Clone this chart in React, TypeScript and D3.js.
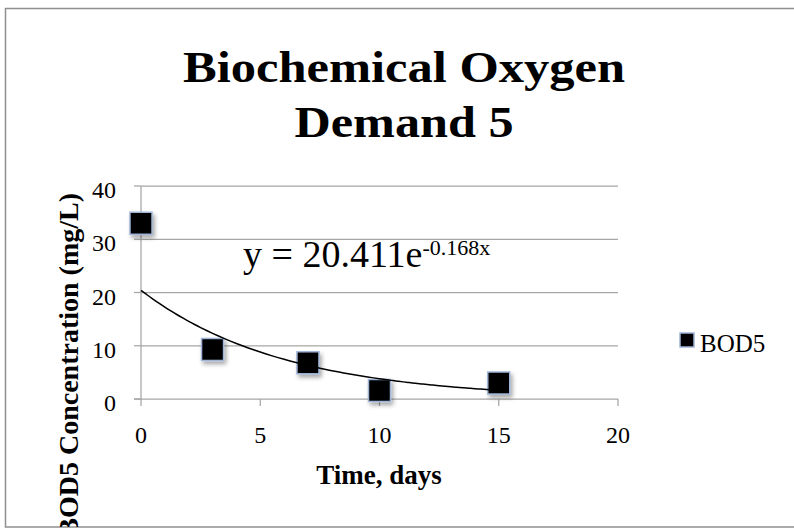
import * as React from 'react';
import * as d3 from 'd3';

const days = [0, 3, 7, 10, 15];
const bod5 = [33, 9.3, 6.8, 1.6, 3.0];
const xTicks = [0, 5, 10, 15, 20];
const yTicks = [0, 10, 20, 30, 40];
const titleLines = ['Biochemical Oxygen', 'Demand 5'];
const seriesName = 'BOD5';
const xTitle = 'Time, days';
const yTitle = 'BOD5 Concentration (mg/L)';
// exponential trendline as printed on the chart
const trendA = 20.411;
const trendK = -0.168;

const W = 794;
const H = 529;
const serif = '"Liberation Serif", "Times New Roman", serif';

export default function App() {
    const ref = React.useRef<SVGSVGElement>(null);

    React.useEffect(() => {
        const svg = d3.select(ref.current);
        svg.selectAll('*').remove();

        const x = d3.scaleLinear().domain([0, 20]).range([141, 618]);
        const y = d3.scaleLinear().domain([0, 40]).range([399, 186]);

        const defs = svg.append('defs');
        defs.append('clipPath').attr('id', 'chartArea')
            .append('rect').attr('x', 5).attr('y', 8).attr('width', 800).attr('height', 519);
        defs.append('filter').attr('id', 'shadow')
            .attr('x', '-50%').attr('y', '-50%').attr('width', '200%').attr('height', '200%')
            .append('feDropShadow')
            .attr('dx', 2).attr('dy', 3).attr('stdDeviation', 2)
            .attr('flood-color', '#000').attr('flood-opacity', 0.35);

        // chart frame
        svg.append('rect')
            .attr('x', 5.5).attr('y', 8.5).attr('width', 800).attr('height', 518.5)
            .attr('fill', '#fff').attr('stroke', '#8f8f8f').attr('stroke-width', 1.5);

        const g = svg.append('g').attr('clip-path', 'url(#chartArea)');

        // title
        g.selectAll('text.title')
            .data(titleLines)
            .enter().append('text')
            .attr('class', 'title')
            .attr('x', 404)
            .attr('y', (d, i) => 82 + i * 55)
            .attr('text-anchor', 'middle')
            .attr('font-family', serif)
            .attr('font-weight', 'bold')
            .attr('font-size', 45)
            .attr('textLength', (d, i) => i === 0 ? 442 : 219)
            .attr('lengthAdjust', 'spacingAndGlyphs')
            .text(d => d);

        // gridlines
        g.selectAll('line.grid')
            .data(yTicks.slice(1))
            .enter().append('line')
            .attr('class', 'grid')
            .attr('x1', x(0)).attr('x2', x(20))
            .attr('y1', d => y(d)).attr('y2', d => y(d))
            .attr('stroke', '#a6a6a6').attr('stroke-width', 1.25);

        // y axis
        g.append('line')
            .attr('x1', x(0)).attr('x2', x(0))
            .attr('y1', y(0)).attr('y2', y(40))
            .attr('stroke', '#a6a6a6').attr('stroke-width', 1.25);
        g.selectAll('line.ytick')
            .data(yTicks)
            .enter().append('line')
            .attr('class', 'ytick')
            .attr('x1', x(0) - 7).attr('x2', x(0))
            .attr('y1', d => y(d)).attr('y2', d => y(d))
            .attr('stroke', '#a6a6a6').attr('stroke-width', 1.25);
        g.selectAll('text.ylab')
            .data(yTicks)
            .enter().append('text')
            .attr('class', 'ylab')
            .attr('x', 116)
            .attr('y', d => y(d) + 12)
            .attr('text-anchor', 'end')
            .attr('font-family', serif)
            .attr('font-size', 24)
            .text(d => d);

        // x axis
        g.append('line')
            .attr('x1', x(0) - 7).attr('x2', x(20))
            .attr('y1', y(0)).attr('y2', y(0))
            .attr('stroke', '#a6a6a6').attr('stroke-width', 1.25);
        g.selectAll('line.xtick')
            .data(xTicks)
            .enter().append('line')
            .attr('class', 'xtick')
            .attr('x1', d => x(d)).attr('x2', d => x(d))
            .attr('y1', y(0)).attr('y2', y(0) + 7)
            .attr('stroke', '#a6a6a6').attr('stroke-width', 1.25);
        g.selectAll('text.xlab')
            .data(xTicks)
            .enter().append('text')
            .attr('class', 'xlab')
            .attr('x', d => x(d))
            .attr('y', 443)
            .attr('text-anchor', 'middle')
            .attr('font-family', serif)
            .attr('font-size', 24)
            .text(d => d);

        // axis titles
        g.append('text')
            .attr('x', 379).attr('y', 484)
            .attr('text-anchor', 'middle')
            .attr('font-family', serif)
            .attr('font-weight', 'bold')
            .attr('font-size', 27)
            .text(xTitle);
        g.append('text')
            .attr('transform', 'translate(78,193) rotate(-90)')
            .attr('text-anchor', 'end')
            .attr('font-family', serif)
            .attr('font-weight', 'bold')
            .attr('font-size', 28)
            .text(yTitle);

        // markers
        const pts = days.map((d, i) => ({ x: d, y: bod5[i] }));
        const size = 22;
        g.selectAll('rect.pt')
            .data(pts)
            .enter().append('rect')
            .attr('class', 'pt')
            .attr('x', d => x(d.x) - size / 2)
            .attr('y', d => y(d.y) - size / 2)
            .attr('width', size).attr('height', size)
            .attr('fill', '#000')
            .attr('stroke', '#9fb4d6').attr('stroke-width', 1.5)
            .attr('filter', 'url(#shadow)');

        // trendline on top of the markers
        const line = d3.line<number>()
            .x(d => x(d))
            .y(d => y(trendA * Math.exp(trendK * d)))
            .curve(d3.curveBasis);
        g.append('path')
            .datum(d3.range(0, 15.001, 0.25))
            .attr('d', line)
            .attr('fill', 'none')
            .attr('stroke', '#000')
            .attr('stroke-width', 1.5);

        // equation label
        const eq = g.append('text')
            .attr('x', 243).attr('y', 267)
            .attr('font-family', serif)
            .attr('font-size', 38);
        eq.append('tspan').text(`y = ${trendA}e`);
        eq.append('tspan')
            .attr('dy', -12)
            .attr('font-size', 22)
            .text(`${trendK}x`);

        // legend
        g.append('rect')
            .attr('x', 680).attr('y', 333).attr('width', 14).attr('height', 14)
            .attr('fill', '#000')
            .attr('stroke', '#9fb4d6').attr('stroke-width', 1.5);
        g.append('text')
            .attr('x', 700).attr('y', 352)
            .attr('font-family', serif)
            .attr('font-size', 25)
            .text(seriesName);
    }, []);

    return (
        <svg ref={ref} width={W} height={H}
            style={{ position: 'absolute', left: 0, top: 0, background: '#fff' }} />
    );
}
